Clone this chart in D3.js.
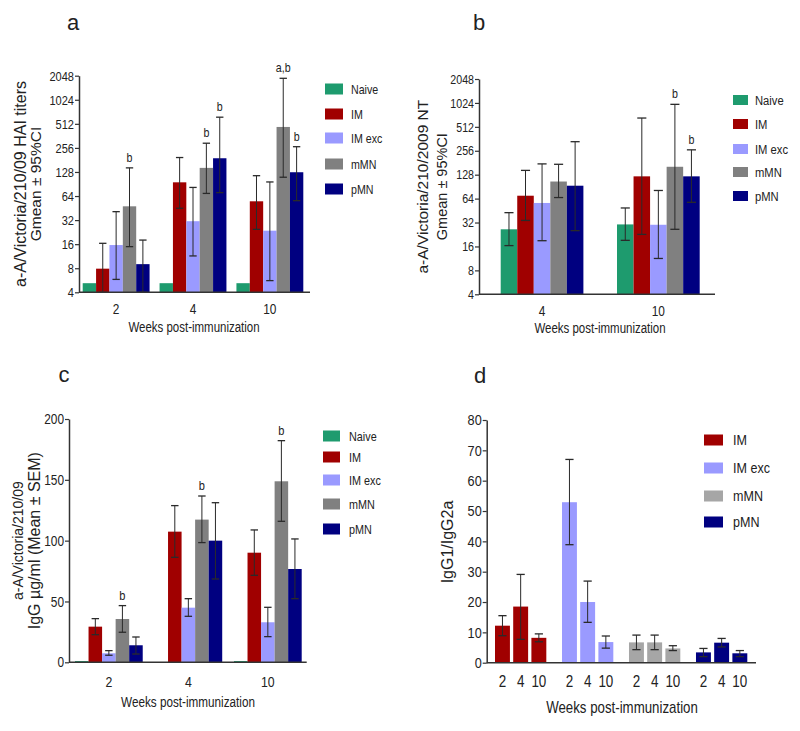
<!DOCTYPE html>
<html>
<head>
<meta charset="utf-8">
<script src="https://cdn.jsdelivr.net/npm/d3@7/dist/d3.min.js"></script>
<style>
  html, body { margin: 0; padding: 0; background: #fff; }
  svg { display: block; }
  text { font-family: "Liberation Sans", Arial, sans-serif; }
</style>
</head>
<body>
<svg id="chart" width="800" height="731"></svg>
<script>
// ---------------- DATA ----------------
const seriesAll = ["Naive", "IM", "IM exc", "mMN", "pMN"];
const seriesD = ["IM", "IM exc", "mMN", "pMN"];
const weeksAC = ["2", "4", "10"];
const weeksB = ["4", "10"];
const ticksLog = [4, 8, 16, 32, 64, 128, 256, 512, 1024, 2048];
const ticksC = [0, 50, 100, 150, 200];
const ticksD = [0, 10, 20, 30, 40, 50, 60, 70, 80];

// Panel a: HAI titers, Gmean ± 95%CI  (rows = series, cols = weeks 2,4,10)
const haiMean = [[5.2, 5.2, 5.2], [7.9, 95, 55], [15.6, 31, 23.6], [47.6, 144, 468], [9.0, 190, 127]];
const haiLo   = [null, [4, 45, 24.5], [5.8, 11.4, 5.6], [14.9, 69, 110], [4, 70.6, 56]];
const haiHi   = [null, [16.4, 194, 115], [40.8, 82, 96], [144, 293, 1900], [18, 620, 265]];
const haiMarks = [["2", "mMN", "b"], ["4", "mMN", "b"], ["4", "pMN", "b"], ["10", "mMN", "a,b"], ["10", "pMN", "b"]];

// Panel b: NT titers, Gmean ± 95%CI (cols = weeks 4,10)
const ntMean = [[26.3, 30.3], [69.6, 122], [56.4, 30], [105, 161], [93, 122]];
const ntLo   = [[16.4, 19.1], [34, 22.7], [18.9, 11.3], [66, 26.3], [25.3, 57.5]];
const ntHi   = [[42.6, 48.8], [145, 661], [175, 81], [173, 983], [333, 263]];
const ntMarks = [["10", "mMN", "b"], ["10", "pMN", "b"]];

// Panel c: IgG µg/ml, Mean ± SEM (cols = weeks 2,4,10)
const igMean = [[1, 0, 1], [29.3, 107.4, 90.1], [7.4, 44.9, 32.9], [35.6, 117.3, 148.8], [14, 100, 76.7]];
const igLo   = [null, [22.7, 86.3, 71.5], [5.8, 37.8, 21.1], [24.7, 98.4, 115.9], [6.8, 68.5, 52.3]];
const igHi   = [null, [35.9, 128.8, 108.8], [9.6, 52.3, 45.2], [46.6, 136.7, 182.2], [20.8, 131.2, 101.4]];
const igMarks = [["2", "mMN", "b"], ["4", "mMN", "b"], ["10", "mMN", "b"]];

// Panel d: IgG1/IgG2a ratio (rows = series, cols = weeks 2,4,10)
const ratioMean = [[12.2, 18.5, 8.2], [52.9, 20, 6.8], [6.7, 6.7, 4.7], [3.4, 6.6, 3.1]];
const ratioLo   = [[8.9, 7.7, 6.9], [38.9, 13.3, 4.8], [4.3, 4.3, 4.0], [2.0, 5.2, 2.0]];
const ratioHi   = [[15.5, 29.1, 9.5], [67, 26.9, 8.8], [9.1, 9.1, 5.6], [4.7, 8.0, 4.0]];

const colorMap = { "Naive": "#1e9b6e", "IM": "#a00000", "IM exc": "#9a9aff", "mMN": "#808080", "pMN": "#000080" };
const colorMapD = { "IM": "#a00000", "IM exc": "#9a9aff", "mMN": "#a6a6a6", "pMN": "#000080" };

// ---------------- DRAW ----------------
const svg = d3.select("#chart");
const AX = "#333";
const ERR = "#2a2a2a";
const NARROW = 0.82;

// condensed text (Arial Narrow look) via horizontal scaling of Liberation Sans
function ntext(g, x, y, txt, fs, anchor, dy) {
  return g.append("text").attr("transform", `translate(${x},${y}) scale(${NARROW},1)`)
    .attr("text-anchor", anchor || "middle").attr("dy", dy || null)
    .attr("font-size", fs).attr("fill", "#222").text(txt);
}

function yAxis(g, y, x0, ticks, fmt, fs) {
  const ax = d3.axisLeft(y).tickValues(ticks).tickFormat(fmt).tickSize(4).tickSizeOuter(0).tickPadding(2);
  const a = g.append("g").attr("transform", `translate(${x0},0)`).call(ax);
  a.select(".domain").attr("stroke", AX).attr("stroke-width", 1.5);
  a.selectAll(".tick line").attr("stroke", AX).attr("stroke-width", 1.2);
  a.selectAll(".tick text").attr("transform", `scale(${NARROW},1)`).attr("x", -5 / NARROW)
    .attr("font-family", "Liberation Sans, Arial, sans-serif").attr("font-size", fs).attr("fill", "#222");
}

function errBar(g, cx, yLo, yHi, cap) {
  g.append("line").attr("x1", cx).attr("x2", cx).attr("y1", yLo).attr("y2", yHi).attr("stroke", ERR).attr("stroke-width", 1);
  [yLo, yHi].forEach(yy => g.append("line").attr("x1", cx - cap / 2).attr("x2", cx + cap / 2)
    .attr("y1", yy).attr("y2", yy).attr("stroke", ERR).attr("stroke-width", 1.3));
}

function legend(g, items, colors, x, ys, bw, bh, tx, fs) {
  items.forEach((s, i) => {
    g.append("rect").attr("x", x).attr("y", ys[i] - bh / 2).attr("width", bw).attr("height", bh).attr("fill", colors[s]);
    ntext(g, tx, ys[i], s, fs, "start", "0.35em");
  });
}

function yLabel(g, lines, cy) {
  lines.forEach(l => {
    g.append("text").attr("transform", `translate(${l.x},${cy}) rotate(-90)`)
      .attr("text-anchor", "middle").attr("dy", "0.35em").attr("font-size", l.fs).attr("fill", "#222").text(l.t);
  });
}

function groupedPanel(cfg) {
  const g = svg.append("g");
  const x = d3.scaleBand().domain(cfg.weeks).range(cfg.barRange).paddingInner(cfg.padG);
  const xs = d3.scaleBand().domain(seriesAll).range([0, x.bandwidth()]);
  const y = cfg.y;
  const yBase = y.range()[0];
  seriesAll.forEach((s, si) => {
    cfg.weeks.forEach((w, wi) => {
      const v = Math.max(cfg.mean[si][wi], cfg.minV);
      g.append("rect").attr("x", x(w) + xs(s)).attr("width", xs.bandwidth())
        .attr("y", y(v)).attr("height", yBase - y(v)).attr("fill", colorMap[s]);
    });
  });
  seriesAll.forEach((s, si) => {
    if (!cfg.lo[si]) return;
    cfg.weeks.forEach((w, wi) => {
      const cx = x(w) + xs(s) + xs.bandwidth() / 2;
      errBar(g, cx, y(cfg.lo[si][wi]), y(cfg.hi[si][wi]), xs.bandwidth() * 0.55);
    });
  });
  cfg.marks.forEach(([w, s, t]) => {
    const si = seriesAll.indexOf(s), wi = cfg.weeks.indexOf(w);
    ntext(g, x(w) + xs(s) + xs.bandwidth() / 2, y(cfg.hi[si][wi]) - 6, t, cfg.markFs, "middle");
  });
  yAxis(g, y, cfg.x0, cfg.ticks, cfg.fmt, cfg.tickFs);
  g.append("line").attr("x1", cfg.x0).attr("x2", cfg.xEnd).attr("y1", yBase).attr("y2", yBase).attr("stroke", AX).attr("stroke-width", 1.5);
  cfg.weeks.forEach(w => ntext(g, x(w) + x.bandwidth() / 2, cfg.tickY, w, cfg.xTickFs, "middle"));
  ntext(g, cfg.titleX, cfg.titleY, "Weeks post-immunization", cfg.titleFs, "middle");
  yLabel(g, cfg.ylab, (y.range()[0] + y.range()[1]) / 2);
  legend(g, seriesAll, colorMap, cfg.leg.x, cfg.leg.ys, cfg.leg.bw, cfg.leg.bh, cfg.leg.tx, cfg.leg.fs);
  g.append("text").attr("x", cfg.letter[0]).attr("y", cfg.letter[1]).attr("text-anchor", "middle")
    .attr("font-size", 22).attr("fill", "#222").text(cfg.letter[2]);
}

// Panel a
groupedPanel({
  weeks: weeksAC, mean: haiMean, lo: haiLo, hi: haiHi, marks: haiMarks,
  y: d3.scaleLog().base(2).domain([4, 2048]).range([292.3, 75.7]), minV: 4,
  ticks: ticksLog, fmt: d3.format("d"), tickFs: 13.5, xTickFs: 14.5,
  barRange: [82.7, 303.3], padG: 0.13, x0: 79, xEnd: 310,
  tickY: 314, titleX: 194, titleY: 332, titleFs: 14, markFs: 13,
  ylab: [{ x: 20, fs: 16, t: "a-A/Victoria/210/09 HAI  titers" }, { x: 36, fs: 15.5, t: "Gmean \u00b1 95%CI" }],
  leg: { x: 325, ys: [89, 114, 138, 164, 189], bw: 18, bh: 11, tx: 351, fs: 13 },
  letter: [73, 30, "a"]
});

// Panel b
groupedPanel({
  weeks: weeksB, mean: ntMean, lo: ntLo, hi: ntHi, marks: ntMarks,
  y: d3.scaleLog().base(2).domain([4, 2048]).range([294.3, 79]), minV: 4,
  ticks: ticksLog, fmt: d3.format("d"), tickFs: 13, xTickFs: 14.5,
  barRange: [500.7, 699.7], padG: 0.289, x0: 479, xEnd: 715,
  tickY: 316, titleX: 600, titleY: 333, titleFs: 14, markFs: 13,
  ylab: [{ x: 423, fs: 15.5, t: "a-A/Victoria/210/2009 NT" }, { x: 442, fs: 14.5, t: "Gmean \u00b1 95%CI" }],
  leg: { x: 733, ys: [100, 124, 149, 172, 196], bw: 15, bh: 10, tx: 755, fs: 13.7 },
  letter: [479, 30, "b"]
});

// Panel c
groupedPanel({
  weeks: weeksAC, mean: igMean, lo: igLo, hi: igHi, marks: igMarks,
  y: d3.scaleLinear().domain([0, 200]).range([662.3, 419]), minV: 0,
  ticks: ticksC, fmt: d3.format("d"), tickFs: 14.5, xTickFs: 15,
  barRange: [75, 301.7], padG: 0.148, x0: 69, xEnd: 306.7,
  tickY: 687, titleX: 188, titleY: 707, titleFs: 14.3, markFs: 13.5,
  ylab: [{ x: 18, fs: 14, t: "a-A/Victoria/210/09" }, { x: 34, fs: 16, t: "IgG \u00b5g/ml (Mean \u00b1 SEM)" }],
  leg: { x: 323, ys: [436, 457, 480, 504, 529], bw: 17, bh: 11, tx: 349, fs: 13.2 },
  letter: [64, 382, "c"]
});

// Panel d
(function () {
  const g = svg.append("g");
  const x0 = 486.7, xEnd = 756;
  const y = d3.scaleLinear().domain([0, 80]).range([662.7, 420]);
  const x = d3.scaleBand().domain(seriesD).range([495, 747.3]).paddingInner(0.234);
  const xs = d3.scaleBand().domain(weeksAC).range([0, x.bandwidth()]).paddingInner(0.18);
  seriesD.forEach((s, si) => {
    weeksAC.forEach((w, wi) => {
      g.append("rect").attr("x", x(s) + xs(w)).attr("width", xs.bandwidth()).attr("y", y(ratioMean[si][wi]))
        .attr("height", y(0) - y(ratioMean[si][wi])).attr("fill", colorMapD[s]);
    });
  });
  seriesD.forEach((s, si) => {
    weeksAC.forEach((w, wi) => {
      const cx = x(s) + xs(w) + xs.bandwidth() / 2;
      errBar(g, cx, y(ratioLo[si][wi]), y(ratioHi[si][wi]), xs.bandwidth() * 0.55);
      ntext(g, cx, 687, w, 16.4, "middle");
    });
  });
  yAxis(g, y, x0, ticksD, d3.format("d"), 15.5);
  g.append("line").attr("x1", x0).attr("x2", xEnd).attr("y1", y(0)).attr("y2", y(0)).attr("stroke", AX).attr("stroke-width", 1.5);
  ntext(g, 622, 713, "Weeks post-immunization", 16.2, "middle");
  yLabel(g, [{ x: 447, fs: 16, t: "IgG1/IgG2a" }], 542);
  legend(g, seriesD, colorMapD, 704, [440, 468, 496, 522], 19, 11, 733, 15.3);
  g.append("text").attr("x", 480).attr("y", 383).attr("text-anchor", "middle")
    .attr("font-size", 22).attr("fill", "#222").text("d");
})();
</script>
</body>
</html>
